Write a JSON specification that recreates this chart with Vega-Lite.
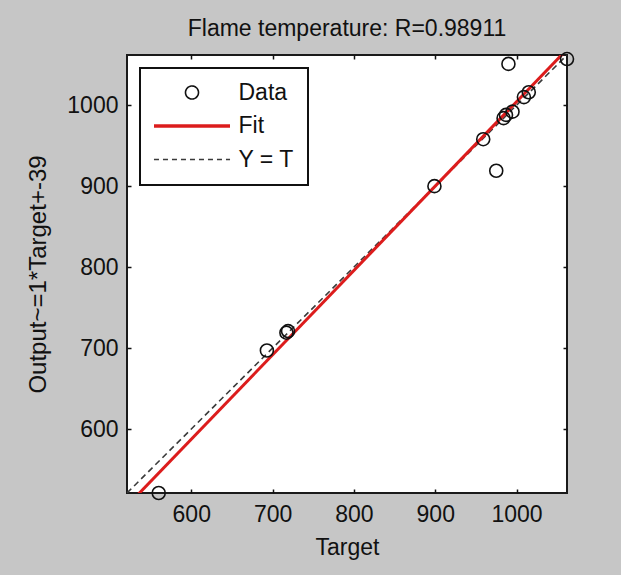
{
  "$schema": "https://vega.github.io/schema/vega-lite/v6.json",
  "autosize": "none",
  "width": 440,
  "height": 438,
  "padding": {"left": 127, "top": 55, "right": 54, "bottom": 82},
  "background": "#c6c6c6",
  "title": {
    "text": "Flame temperature: R=0.98911",
    "font": "Liberation Sans",
    "fontSize": 23,
    "fontWeight": "normal",
    "color": "#111111",
    "baseline": "alphabetic",
    "frame": "group",
    "offset": 20,
    "dy": 30,
    "anchor": "middle"
  },
  "config": {
    "view": {"fill": "white", "stroke": "#1a1a1a", "strokeWidth": 2},
    "font": "Liberation Sans",
    "axis": {
      "domain": false,
      "grid": false,
      "format": "d",
      "tickColor": "#111111",
      "tickSize": -4,
      "tickWidth": 1.5,
      "labelFont": "Liberation Sans",
      "labelFontSize": 23,
      "labelColor": "#111111",
      "titleFont": "Liberation Sans",
      "titleFontSize": 23,
      "titleFontWeight": "normal",
      "titleColor": "#111111"
    }
  },
  "data": {
    "values": [
      {"series": "Data", "target": 560, "output": 521},
      {"series": "Data", "target": 693, "output": 697},
      {"series": "Data", "target": 717, "output": 719},
      {"series": "Data", "target": 719, "output": 721},
      {"series": "Data", "target": 899, "output": 900},
      {"series": "Data", "target": 959, "output": 958},
      {"series": "Data", "target": 975, "output": 919},
      {"series": "Data", "target": 984, "output": 984},
      {"series": "Data", "target": 987, "output": 988},
      {"series": "Data", "target": 990, "output": 1051},
      {"series": "Data", "target": 995, "output": 992},
      {"series": "Data", "target": 1009, "output": 1010},
      {"series": "Data", "target": 1015, "output": 1016},
      {"series": "Data", "target": 1062, "output": 1057},
      {"series": "Fit", "target": 521, "output": 505},
      {"series": "Fit", "target": 1062, "output": 1069},
      {"series": "Y = T", "target": 521, "output": 521},
      {"series": "Y = T", "target": 1062, "output": 1062}
    ]
  },
  "encoding": {
    "color": {
      "field": "series",
      "type": "nominal",
      "scale": {"domain": ["Data", "Fit", "Y = T"], "range": ["#111111", "#dc1c1c", "#3a3a3a"]},
      "legend": {
        "orient": "none",
        "legendX": 13,
        "legendY": 13,
        "title": null,
        "padding": 13,
        "fillColor": "white",
        "strokeColor": "#111111",
        "symbolSize": 169,
        "symbolOffset": 27.5,
        "labelOffset": 35,
        "labelFont": "Liberation Sans",
        "labelFontSize": 23,
        "labelColor": "#111111",
        "rowPadding": 9.5,
        "encode": {
          "legend": {"update": {"strokeWidth": {"value": 2}}},
          "symbols": {
            "update": {
              "shape": {"signal": "datum.value === 'Data' ? 'circle' : 'M-5.85,0H5.85'"},
              "stroke": {"signal": "scale('color', datum.value)"},
              "strokeWidth": {"signal": "datum.value === 'Fit' ? 3.5 : 1.6"},
              "strokeDash": {"signal": "datum.value === 'Y = T' ? [5, 4] : [1, 0]"},
              "fill": {"value": "transparent"},
              "opacity": {"value": 1}
            }
          }
        }
      }
    }
  },
  "layer": [
    {
      "transform": [{"filter": "datum.series === 'Y = T'"}],
      "mark": {"type": "line", "clip": true, "strokeDash": [6, 4], "strokeWidth": 1.6},
      "encoding": {
        "x": {"field": "target", "type": "quantitative", "scale": {"domain": [521, 1062], "nice": false, "zero": false},
              "axis": {"orient": "top", "labels": false, "title": null, "values": [600, 700, 800, 900, 1000], "minExtent": 0, "maxExtent": 0}},
        "y": {"field": "output", "type": "quantitative", "scale": {"domain": [521, 1062], "nice": false, "zero": false},
              "axis": {"orient": "right", "labels": false, "title": null, "values": [600, 700, 800, 900, 1000], "minExtent": 0, "maxExtent": 0}}
      }
    },
    {
      "transform": [{"filter": "datum.series === 'Fit'"}],
      "mark": {"type": "line", "clip": true, "strokeWidth": 3},
      "encoding": {
        "x": {"field": "target", "type": "quantitative", "axis": null},
        "y": {"field": "output", "type": "quantitative", "axis": null}
      }
    },
    {
      "transform": [{"filter": "datum.series === 'Data'"}],
      "mark": {"type": "point", "shape": "circle", "filled": false, "size": 169, "strokeWidth": 1.6, "opacity": 1, "clip": false},
      "encoding": {
        "x": {"field": "target", "type": "quantitative",
              "axis": {"orient": "bottom", "title": "Target", "values": [600, 700, 800, 900, 1000], "labelPadding": 14, "titlePadding": 10}},
        "y": {"field": "output", "type": "quantitative",
              "axis": {"orient": "left", "title": "Output~=1*Target+-39", "titleFontSize": 24, "values": [600, 700, 800, 900, 1000], "labelPadding": 13, "titlePadding": 16}}
      }
    }
  ],
  "resolve": {"axis": {"x": "independent", "y": "independent"}}
}
